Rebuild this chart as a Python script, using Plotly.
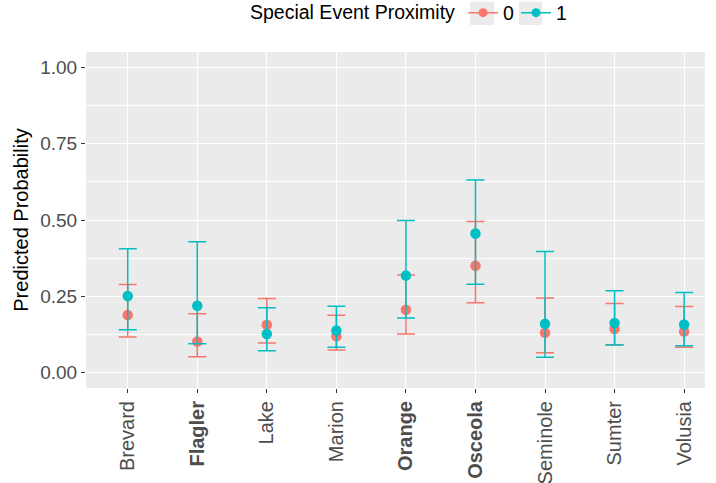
import plotly.graph_objects as go

counties = ["Brevard", "Flagler", "Lake", "Marion", "Orange", "Osceola", "Seminole", "Sumter", "Volusia"]
bold_counties = ["Flagler", "Orange", "Osceola"]

# Special Event Proximity = 0
p0 = [0.189, 0.102, 0.157, 0.119, 0.206, 0.350, 0.131, 0.143, 0.135]
hi0 = [0.289, 0.193, 0.243, 0.188, 0.320, 0.495, 0.245, 0.227, 0.217]
lo0 = [0.117, 0.052, 0.097, 0.074, 0.127, 0.229, 0.065, 0.092, 0.083]

# Special Event Proximity = 1
p1 = [0.251, 0.219, 0.127, 0.138, 0.318, 0.456, 0.160, 0.163, 0.158]
hi1 = [0.406, 0.429, 0.213, 0.218, 0.498, 0.631, 0.397, 0.268, 0.263]
lo1 = [0.141, 0.095, 0.072, 0.083, 0.179, 0.290, 0.051, 0.091, 0.088]

y_ticks = [0.0, 0.25, 0.5, 0.75, 1.0]
y_ticklabels = ["0.00", "0.25", "0.50", "0.75", "1.00"]

RED = "#F8766D"
TEAL = "#00BFC4"
FONT = "Liberation Sans, Arial, sans-serif"

W, H = 716, 483
ML, MR, MT, MB = 86, 11, 52, 95
PW, PH = W - ML - MR, H - MT - MB


def px_x(v):
    return (v - ML) / PW


def px_y(v):
    return (H - MB - v) / PH


fig = go.Figure()
for name, col, p, hi, lo, leg in [("0", RED, p0, hi0, lo0, "legend"),
                                  ("1", TEAL, p1, hi1, lo1, "legend2")]:
    fig.add_trace(go.Scatter(
        x=counties, y=p, mode="markers", showlegend=False,
        marker=dict(color=col, size=10.5),
        error_y=dict(type="data", symmetric=False,
                     array=[h - v for h, v in zip(hi, p)],
                     arrayminus=[v - l for v, l in zip(p, lo)],
                     color=col, thickness=1.5, width=9),
    ))
    fig.add_trace(go.Scatter(
        x=[None], y=[None], mode="lines+markers", name=name, legend=leg,
        line=dict(color=col, width=1.5), marker=dict(color=col, size=9),
    ))

ticktext = [f"<b>{c}</b>" if c in bold_counties else c for c in counties]

# grey legend key backgrounds
key_boxes = [(470, 494), (519, 542)]
shapes = [dict(type="rect", xref="paper", yref="paper",
               x0=px_x(a), x1=px_x(b), y0=px_y(25), y1=px_y(1.7),
               fillcolor="#EBEBEB", line=dict(width=0), layer="below")
          for a, b in key_boxes]

fig.update_layout(
    width=W, height=H,
    margin=dict(l=ML, r=MR, t=MT, b=MB, autoexpand=False),
    paper_bgcolor="white", plot_bgcolor="#EBEBEB",
    font=dict(family=FONT, color="#4D4D4D"),
    showlegend=True,
    shapes=shapes,
    legend=dict(
        orientation="h", x=px_x(248), xanchor="left", y=px_y(13), yanchor="middle",
        title=dict(text="Special Event Proximity", side="left",
                   font=dict(size=19.5, color="black")),
        font=dict(size=19.5, color="black"),
        itemwidth=30, bgcolor="rgba(0,0,0,0)",
    ),
    legend2=dict(
        orientation="h", x=px_x(516), xanchor="left", y=px_y(13), yanchor="middle",
        font=dict(size=19.5, color="black"),
        itemwidth=30, bgcolor="rgba(0,0,0,0)",
    ),
    xaxis=dict(
        type="category", categoryorder="array", categoryarray=counties,
        tickmode="array", tickvals=counties, ticktext=ticktext,
        range=[-0.6, 8.3], tickangle=-90, automargin=False,
        tickfont=dict(size=20, color="#4D4D4D"),
        showgrid=True, gridcolor="white", gridwidth=1.1,
        ticks="outside", ticklen=4, tickcolor="#333333", tickwidth=1.1,
        showline=False, zeroline=False,
    ),
    yaxis=dict(
        range=[-0.05, 1.05], tickmode="array", tickvals=y_ticks, ticktext=y_ticklabels,
        automargin=False,
        tickfont=dict(size=19, color="#4D4D4D"),
        showgrid=True, gridcolor="white", gridwidth=1.1,
        minor=dict(dtick=0.125, tick0=0.125, showgrid=True, gridcolor="white", gridwidth=0.55),
        ticks="outside", ticklen=4, tickcolor="#333333", tickwidth=1.1,
        zeroline=False, showline=False,
        title=dict(text="Predicted Probability", font=dict(size=20, color="black"), standoff=6),
    ),
)

fig.write_html("out.html")
